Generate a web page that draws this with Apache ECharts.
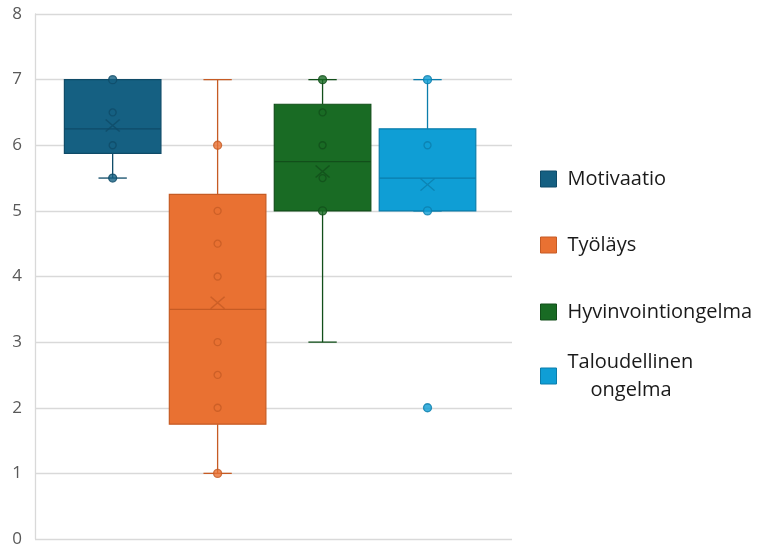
<!DOCTYPE html>
<html>
<head>
<meta charset="utf-8">
<script src="https://cdn.jsdelivr.net/npm/echarts@6/dist/echarts.min.js"></script>
<style>
  html, body { margin: 0; padding: 0; background: #ffffff; }
  #chart { width: 757px; height: 551px; }
</style>
</head>
<body>
<div id="chart"></div>
<script>
// ---- Data ----
const seriesNames = ['Motivaatio', 'Työläys', 'Hyvinvointiongelma', 'Taloudellinen ongelma'];
const whiskerLow  = [5.5, 1, 3, 5];
const quartile1   = [5.875, 1.75, 5, 5];
const medians     = [6.25, 3.5, 5.75, 5.5];
const quartile3   = [7, 5.25, 6.625, 6.25];
const whiskerHigh = [7, 7, 7, 7];
const means       = [6.3, 3.6, 5.6, 5.4];
const innerPoints = [[6.5, 6], [5, 4.5, 4, 3, 2.5, 2], [6.5, 6, 5.5], [6]];
const outerPoints = [[7, 5.5], [6, 1], [7, 5], [7, 5, 2]];
const yTicks = [0, 1, 2, 3, 4, 5, 6, 7, 8];

// ---- Styles ----
const baseColors = ['#156082', '#E97132', '#196B24', '#0F9ED5'];
const darkColors = ['#0F4B68', '#C65B24', '#124F1A', '#0B7DAB'];
const FONT = '"Open Sans", "Noto Sans", sans-serif';
const BOX_W = 0.92;   // in category units
const CAP_W = 0.27;

const series = [];
seriesNames.forEach(function (name, i) {
  series.push({
    name: name,
    type: 'custom',
    itemStyle: { color: baseColors[i], borderColor: darkColors[i] },
    encode: { x: 0, y: [1, 2, 3, 4, 5] },
    data: [[i, whiskerLow[i], quartile1[i], medians[i], quartile3[i], whiskerHigh[i]]],
    z: 2,
    renderItem: function (params, api) {
      const x = api.value(0);
      const pLow = api.coord([x, api.value(1)]);
      const pQ1 = api.coord([x, api.value(2)]);
      const pMed = api.coord([x, api.value(3)]);
      const pQ3 = api.coord([x, api.value(4)]);
      const pHigh = api.coord([x, api.value(5)]);
      const halfW = api.size([BOX_W, 0])[0] / 2;
      const capHalf = api.size([CAP_W, 0])[0] / 2;
      const cx = pMed[0];
      const lineStyle = { stroke: darkColors[i], lineWidth: 1.3 };
      return {
        type: 'group',
        children: [
          { type: 'line', shape: { x1: cx, y1: pQ3[1], x2: cx, y2: pHigh[1] }, style: lineStyle },
          { type: 'line', shape: { x1: cx, y1: pQ1[1], x2: cx, y2: pLow[1] }, style: lineStyle },
          { type: 'line', shape: { x1: cx - capHalf, y1: pHigh[1], x2: cx + capHalf, y2: pHigh[1] }, style: lineStyle },
          { type: 'line', shape: { x1: cx - capHalf, y1: pLow[1], x2: cx + capHalf, y2: pLow[1] }, style: lineStyle },
          { type: 'rect', shape: { x: cx - halfW, y: pQ3[1], width: halfW * 2, height: pQ1[1] - pQ3[1] },
            style: { fill: baseColors[i], stroke: darkColors[i], lineWidth: 1.2 } },
          { type: 'line', shape: { x1: cx - halfW, y1: pMed[1], x2: cx + halfW, y2: pMed[1] },
            style: { stroke: darkColors[i], lineWidth: 1.3 } }
        ]
      };
    }
  });
});
seriesNames.forEach(function (name, i) {
  series.push({
    name: name, type: 'scatter', z: 5,
    symbol: 'circle', symbolSize: 7,
    itemStyle: { color: 'rgba(0,0,0,0)', borderColor: darkColors[i], borderWidth: 1.3 },
    emphasis: { disabled: true },
    data: innerPoints[i].map(function (v) { return [i, v]; })
  });
  series.push({
    name: name, type: 'scatter', z: 6,
    symbol: 'circle', symbolSize: 8,
    itemStyle: { color: baseColors[i], borderColor: darkColors[i], borderWidth: 1.3 },
    emphasis: { disabled: true },
    data: outerPoints[i].map(function (v) { return [i, v]; })
  });
  series.push({
    name: name, type: 'scatter', z: 6,
    symbol: 'path://M0,0L10,10M10,0L0,10', symbolSize: [14, 12],
    itemStyle: { color: 'none', borderColor: darkColors[i], borderWidth: 1.4 },
    emphasis: { disabled: true },
    data: [[i, means[i]]]
  });
});

const legendTops = [165, 231, 298, 348];
const legends = seriesNames.map(function (name, i) {
  const lg = {
    data: [{ name: name, itemStyle: { color: baseColors[i], borderColor: darkColors[i], borderWidth: 1 } }],
    left: 540, top: legendTops[i], padding: 0,
    icon: 'rect', itemWidth: 16, itemHeight: 16, orient: 'vertical',
    selectedMode: false,
    textStyle: { fontFamily: FONT, fontSize: 20, color: '#1a1a1a', lineHeight: 28, padding: [0, 0, 0, 6] }
  };
  if (name === 'Taloudellinen ongelma') {
    lg.formatter = function () { return '{a|Taloudellinen}\n{b|ongelma}'; };
    lg.textStyle.rich = {
      a: { fontFamily: FONT, fontSize: 20, color: '#1a1a1a', lineHeight: 28 },
      b: { fontFamily: FONT, fontSize: 20, color: '#1a1a1a', lineHeight: 28, padding: [0, 0, 0, 23] }
    };
  }
  return lg;
});

const chart = echarts.init(document.getElementById('chart'), null, { renderer: 'canvas' });
chart.setOption({
  animation: false,
  backgroundColor: '#ffffff',
  textStyle: { fontFamily: FONT },
  grid: { left: 35, right: 245, top: 14, bottom: 12, containLabel: false },
  xAxis: { type: 'value', min: -0.74, max: 3.805, show: false },
  yAxis: {
    type: 'value', min: yTicks[0], max: yTicks[yTicks.length - 1], interval: 1,
    axisLine: { show: true, onZero: false, lineStyle: { color: '#d9d9d9', width: 1.3 } },
    axisTick: { show: false },
    axisLabel: { color: '#595959', fontSize: 17, fontFamily: FONT, margin: 13 },
    splitLine: { show: true, lineStyle: { color: '#d9d9d9', width: 1.3 } }
  },
  legend: legends,
  series: series
});
</script>
</body>
</html>
